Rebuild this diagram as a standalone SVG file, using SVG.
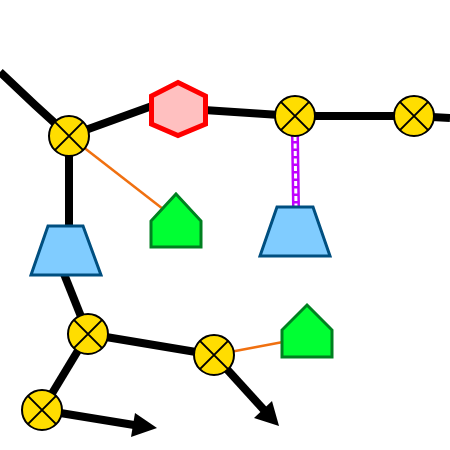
<svg xmlns="http://www.w3.org/2000/svg" width="450" height="450" viewBox="0 0 450 450">
<style>
.e{stroke:#000;stroke-width:8;fill:none}
.o{stroke:#f07010;stroke-width:2.5;fill:none}
.t{fill:#80ccff;stroke:#004f80;stroke-width:3;stroke-linejoin:miter}
.g{fill:#00ff33;stroke:#008020;stroke-width:3}
</style>
<defs>
<g id="xs"><circle r="20" fill="#ffdd00" stroke="#000" stroke-width="2"/><path d="M-14.1,-14.1L14.1,14.1M14.1,-14.1L-14.1,14.1" stroke="#000" stroke-width="2" fill="none"/></g>
</defs>
<g id="connectors">
<path class="e" d="M0,72L35,105L69,136"/>
<path class="e" d="M69,136L152,106"/>
<path class="e" d="M204,110L295,116"/>
<path class="e" d="M295,116L414,116L450,118"/>
<path class="e" d="M69,136L69,228"/>
<path class="e" d="M64,274L88,334"/>
<path class="e" d="M88,334L214,355"/>
<path class="e" d="M88,334L42,410"/>
<path class="e" d="M42,410L134,425"/>
<polygon points="157,428 135,413 131,437" fill="#000"/>
<path class="e" d="M214,355L264,410"/>
<polygon points="279,426 254,418 272,401" fill="#000"/>
<path class="o" d="M69,136L163,209"/>
<path class="o" d="M214,355L283,342"/>
<path d="M295,136L296,207" stroke="#c000ff" stroke-width="8" fill="none"/>
<path d="M295,136L296,207" stroke="#fff" stroke-width="3" stroke-dasharray="5,2.5" fill="none"/>
</g>
<g id="hex"><polygon points="178,82.5 205.5,96 205.5,124 178,135.5 151.5,124 151.5,96" fill="#ffc0c0" stroke="#ff0000" stroke-width="5"/></g>
<g id="trap1"><polygon class="t" points="48,226 83,226 101,275 31,275"/></g>
<g id="trap2"><polygon class="t" points="277,207 313,207 330,256 260,256"/></g>
<g id="pent1"><polygon class="g" points="176,194 201,221 201,247 151,247 151,221"/></g>
<g id="pent2"><polygon class="g" points="307,305 332,330 332,357 282,357 282,330"/></g>
<g id="nA"><use href="#xs" x="69" y="136"/></g>
<g id="nB"><use href="#xs" x="295" y="116"/></g>
<g id="nC"><use href="#xs" x="414" y="116"/></g>
<g id="nD"><use href="#xs" x="88" y="334"/></g>
<g id="nE"><use href="#xs" x="214" y="355"/></g>
<g id="nF"><use href="#xs" x="42" y="410"/></g>
</svg>
